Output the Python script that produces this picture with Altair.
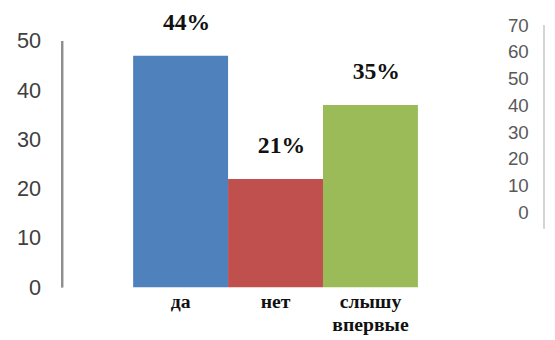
import altair as alt
import pandas as pd

categories = ["да", "нет", "слышу впервые"]
values = [47, 22, 37]
pct_labels = ["44%", "21%", "35%"]
colors = ["#4F81BD", "#C0504D", "#9BBB59"]
left_ticks = [0, 10, 20, 30, 40, 50]
right_ticks = [0, 10, 20, 30, 40, 50, 60, 70]

df = pd.DataFrame({"cat": categories, "val": values, "pct": pct_labels})
df_right = pd.DataFrame({"v": right_ticks})

xscale = alt.Scale(domain=categories, paddingInner=0, paddingOuter=0, range=[72, 361])
yscale = alt.Scale(domain=[0, 53.8], nice=False, zero=False)
rscale = alt.Scale(domain=[-28.0, 71.1], nice=False, zero=False)

left_axis = alt.Axis(
    title=None, values=left_ticks, grid=False, domain=False, ticks=False,
    labelFont="Liberation Sans", labelFontSize=22, labelColor="#404040",
    labelPadding=22, labelOverlap=False,
)
right_axis_def = alt.Axis(
    orient="right", title=None, values=right_ticks, grid=False, domain=False,
    ticks=False, labelAlign="right", labelPadding=0, offset=-19,
    labelFont="Liberation Sans", labelFontSize=19, labelColor="#595959",
    labelOverlap=False, labelBound=False,
)

x_enc = alt.X(
    "cat:N",
    scale=xscale,
    sort=categories,
    axis=alt.Axis(
        title=None, domain=False, ticks=False, labelAngle=0,
        labelFont="Liberation Serif", labelFontWeight="bold", labelFontSize=20,
        labelColor="#111111", labelPadding=4, labelLineHeight=24,
        labelExpr="split(datum.label, ' ')",
    ),
)

bars = alt.Chart(df).mark_bar(stroke=None).encode(
    x=x_enc,
    y=alt.Y("val:Q", scale=yscale, axis=left_axis),
    color=alt.Color("cat:N", scale=alt.Scale(domain=categories, range=colors), legend=None),
)

text = alt.Chart(df).mark_text(
    font="Liberation Serif", fontWeight="bold", fontSize=24, color="#111111",
    dy=-33, dx=6, baseline="middle",
).encode(
    x=alt.X("cat:N", scale=xscale, sort=categories),
    y=alt.Y("val:Q", scale=yscale, axis=left_axis),
    text="pct:N",
)

axis_line = alt.Chart(df).mark_rule(color="#8f8f8f", strokeWidth=2).encode(
    x=alt.value(0), y=alt.Y(datum=0, scale=yscale, axis=left_axis), y2=alt.Y2(datum=left_ticks[-1])
)

left = alt.layer(bars, text, axis_line)

right_axis = alt.Chart(df_right).mark_tick(opacity=0).encode(
    y=alt.Y("v:Q", scale=rscale, axis=right_axis_def)
)

right_line = alt.Chart(df_right).mark_rule(color="#d4d4d4", strokeWidth=1).encode(
    x=alt.value(489), y=alt.Y(datum=-6, scale=rscale, axis=right_axis_def), y2=alt.Y2(datum=right_ticks[-1])
)

right = alt.layer(right_axis, right_line)

chart = alt.layer(left, right).resolve_scale(y="independent").resolve_axis(y="independent").properties(
    width=492, height=269,
    autosize=alt.AutoSizeParams(type="none"),
    padding={"left": 55, "top": 12, "right": 0, "bottom": 50},
).configure_view(stroke=None)

chart.save("out.html", embed_options={"renderer": "svg", "actions": False})
